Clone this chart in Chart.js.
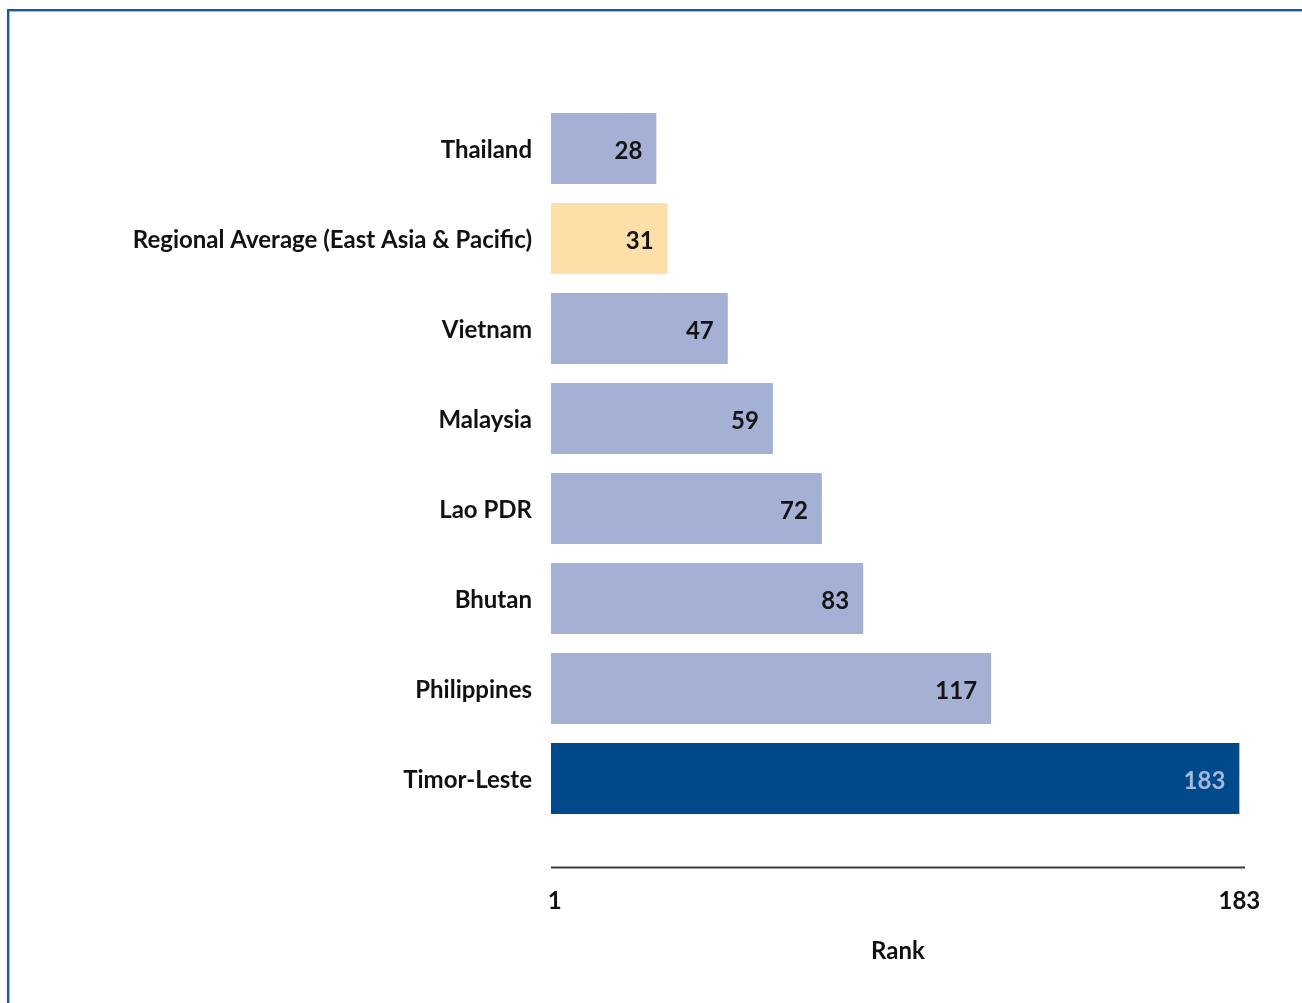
<!DOCTYPE html>
<html>
<head>
<meta charset="utf-8">
<script src="https://cdn.jsdelivr.net/npm/chart.js@4/dist/chart.umd.min.js"></script>
<style>
  html, body { margin: 0; padding: 0; background: #fff; }
  #wrap { position: relative; width: 1302px; height: 1003px; overflow: hidden; }
  #frame { position: absolute; left: 7px; top: 9px; right: -10px; bottom: -10px;
           border-left: 2px solid #1b579c; border-top: 2px solid #1b579c; }
  #frame2 { position: absolute; left: 0; top: 0; right: 0; bottom: 0;
            border-left: 1px solid #9fbde3; border-top: 1px solid #9fbde3; }
  canvas { position: absolute; left: 0; top: 0; }
</style>
</head>
<body>
<div id="wrap">
  <div id="frame"><div id="frame2"></div></div>
  <canvas id="c" width="1302" height="1003"></canvas>
</div>
<script>
const categories = ["Thailand", "Regional Average (East Asia & Pacific)", "Vietnam", "Malaysia", "Lao PDR", "Bhutan", "Philippines", "Timor-Leste"];
const ranks = [28, 31, 47, 59, 72, 83, 117, 183];
const barColors = ["#a4b0d4", "#fedfa7", "#a4b0d4", "#a4b0d4", "#a4b0d4", "#a4b0d4", "#a4b0d4", "#004a8c"];
const valueLabelColors = ["#141414", "#141414", "#141414", "#141414", "#141414", "#141414", "#141414", "#a8b6da"];
const xTickValues = [1, 183];
const xAxisTitle = "Rank";

const FONT = "Lato, 'Open Sans', sans-serif";
const FSIZE = 24;

const valueLabels = {
  id: 'valueLabels',
  afterDatasetsDraw(chart) {
    const ctx = chart.ctx;
    const meta = chart.getDatasetMeta(0);
    ctx.save();
    ctx.font = "bold " + FSIZE + "px " + FONT;
    ctx.textAlign = 'right';
    ctx.textBaseline = 'middle';
    meta.data.forEach((el, i) => {
      ctx.fillStyle = valueLabelColors[i];
      ctx.fillText(String(ranks[i]), el.x - 14, el.y + 3);
    });
    ctx.restore();
  }
};

const axisLine = {
  id: 'axisLine',
  afterDraw(chart) {
    const ctx = chart.ctx;
    const x = chart.scales.x;
    const y = chart.chartArea.bottom + 44;
    ctx.save();
    ctx.strokeStyle = '#3a3a3a';
    ctx.lineWidth = 2;
    ctx.beginPath();
    ctx.moveTo(x.getPixelForValue(0), y);
    ctx.lineTo(x.right, y);
    ctx.stroke();
    ctx.restore();
  }
};

new Chart(document.getElementById('c'), {
  type: 'bar',
  data: {
    labels: categories,
    datasets: [{
      data: ranks,
      backgroundColor: barColors,
      borderWidth: 0,
      barPercentage: 0.79,
      categoryPercentage: 1
    }]
  },
  options: {
    indexAxis: 'y',
    responsive: false,
    animation: false,
    devicePixelRatio: 1,
    layout: { padding: { top: 103.5, right: 57, bottom: 0, left: 0 } },
    plugins: { legend: { display: false }, tooltip: { enabled: false } },
    scales: {
      y: {
        grid: { display: false, drawTicks: false },
        border: { display: false },
        ticks: { color: '#111', font: { family: FONT, size: FSIZE, weight: 'bold' }, padding: 19, labelOffset: 2 },
        afterFit(scale) { scale.width = 551; scale.paddingTop = 0; scale.paddingBottom = 0; }
      },
      x: {
        min: 0,
        max: 184.5,
        grid: { display: false, drawTicks: false },
        border: { display: false },
        afterBuildTicks(scale) { scale.ticks = xTickValues.map(v => ({ value: v })); },
        ticks: {
          color: '#111',
          font: { family: FONT, size: FSIZE, weight: 'bold' },
          padding: 63,
          autoSkip: false,
          maxRotation: 0,
          callback: (v) => String(v)
        },
        title: {
          display: true,
          text: xAxisTitle,
          color: '#111',
          font: { family: FONT, size: FSIZE, weight: 'bold' },
          padding: { top: 0, bottom: 37 }
        },
        afterFit(scale) { scale.height = 1003 - 823.5; scale.paddingLeft = 0; scale.paddingRight = 0; }
      }
    }
  },
  plugins: [valueLabels, axisLine]
});
</script>
</body>
</html>
